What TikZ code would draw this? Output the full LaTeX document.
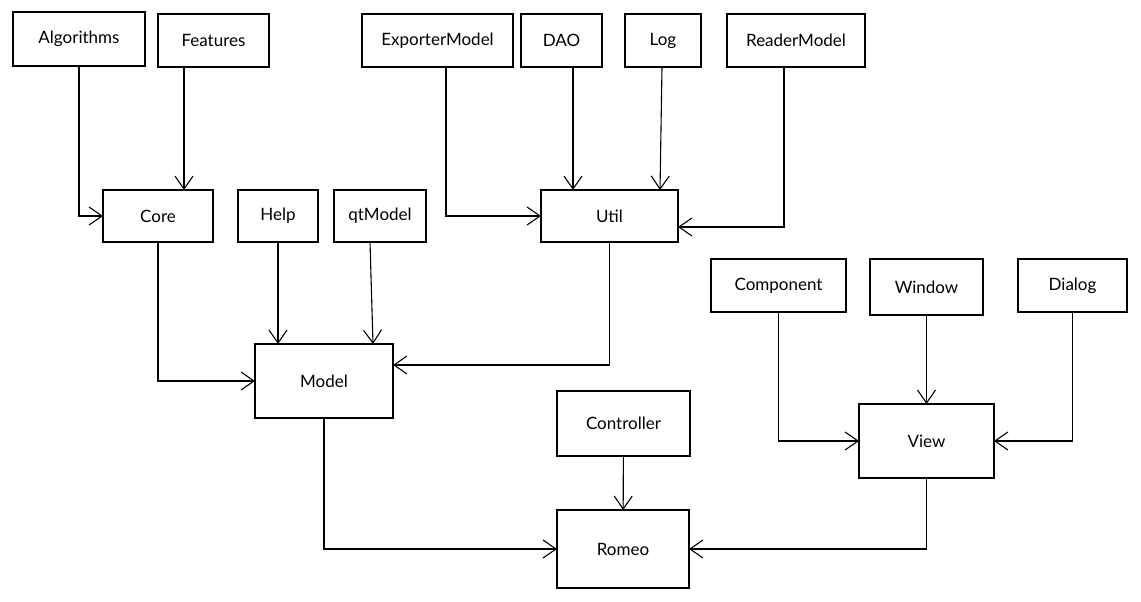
\documentclass[tikz,border=0pt]{standalone}
\usepackage{fontspec}
\setmainfont{Lato}
\usetikzlibrary{arrows.meta}
\begin{document}
\begin{tikzpicture}[x=1pt,y=-1pt,line width=1.1pt,
  box/.style={draw,black,inner sep=0pt,outer sep=0pt,font=\fontsize{17}{19}\selectfont},
  arr/.style={-{Straight Barb[length=\l, width=\w]}}]
\def\l{13pt}
\def\w{18pt}
\useasboundingbox (0,0) rectangle (1141,602);
%top row
\node [box, minimum width=132pt, minimum height=54pt, name=alg]      at (79,39){Algorithms};
\node [box, minimum width=111pt, minimum height=53pt, name=feat]     at (213.5,40.5){Features};
\node [box, minimum width=151pt, minimum height=53pt, name=exp]      at (437.5,40.5){ExporterModel};
\node [box, minimum width=81pt, minimum height=53pt, name=dao]       at (561.5,40.5){DAO};
\node [box, minimum width=76pt, minimum height=53pt, name=log]       at (663,40.5){Log};
\node [box, minimum width=138pt, minimum height=53pt, name=read]     at (796,40.5){ReaderModel};
%middle row
\node [box, minimum width=110pt, minimum height=52pt, name=core]     at (158,216){Core};
\node [box, minimum width=80pt, minimum height=52pt, name=help]      at (278,216){Help};
\node [box, minimum width=92pt, minimum height=52pt, name=qt]        at (380,216){qtModel};
\node [box, minimum width=137pt, minimum height=52pt, name=util]     at (609.5,216){Util};
\node [box, minimum width=135pt, minimum height=53pt, name=comp]     at (778.5,285.5){Component};
\node [box, minimum width=113pt, minimum height=56pt, name=win]      at (926.5,287){Window};
\node [box, minimum width=109pt, minimum height=53pt, name=dlg]      at (1072.5,285.5){Dialog};
%bottom
\node [box, minimum width=138pt, minimum height=74pt, name=model]    at (324,381){Model};
\node [box, minimum width=133pt, minimum height=65pt, name=ctrl]     at (623.5,423.5){Controller};
\node [box, minimum width=135pt, minimum height=74pt, name=view]     at (926.5,441){View};
\node [box, minimum width=132pt, minimum height=78pt, name=romeo]    at (623,549){Romeo};
\draw [arr](alg) |- (core);
\draw [arr]([xshift=-29.5pt]feat.south) -- ([xshift=26pt]core.north);
\draw [arr](core) |- (model);
\draw [arr](help) -- (help.south |- model.north);
\draw [arr]([xshift=-10pt]qt.south) -- ([xshift=49pt]model.north);
\draw [arr](util) |- ([yshift=16pt]model.east);
\draw [arr]([xshift=8.5pt]exp.south) |- (util);
\draw [arr]([xshift=11.5pt]dao.south) -- ([xshift=-36.5pt]util.north);
\draw [arr]([xshift=-1pt]log.south) -- ([xshift=50.5pt]util.north);
\draw [arr]([xshift=-12pt]read.south) |- ([yshift=-11pt]util.east);
\draw [arr](comp) |- (view);
\draw [arr](win) -- (view);
\draw [arr](dlg) |- (view);
\draw [arr](model) |- (romeo);
\draw [arr](ctrl) -- (romeo);
\draw [arr](view) |- (romeo);
\end{tikzpicture}
\end{document}
